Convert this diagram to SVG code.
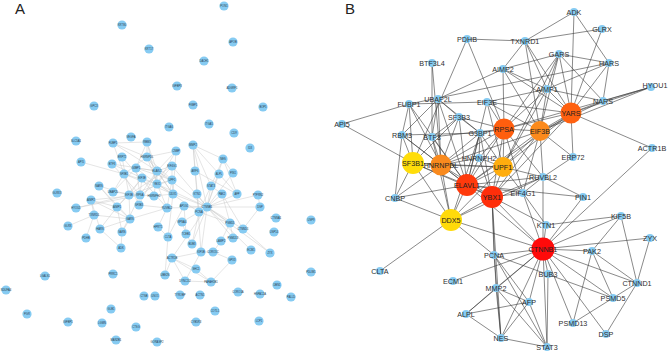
<svg xmlns="http://www.w3.org/2000/svg" width="671" height="354" viewBox="0 0 671 354">
<style>
.panel{font-family:"Liberation Sans",Arial,sans-serif;font-size:15px;fill:#222}
#edgesA line{stroke:#c4c4c4;stroke-width:0.45}
#edgesB line{stroke:#3a3a3a;stroke-width:0.6}
.na circle{fill:#86CBF2}
.na text{font-family:"Liberation Sans",Arial,sans-serif;font-size:2.7px;fill:#2a3a48;text-anchor:middle;dominant-baseline:central}
.nb circle{fill:#86CBF2}
.nb text,.hb text{font-family:"Liberation Sans",Arial,sans-serif;font-size:7.2px;fill:#2e2e2e;text-anchor:middle;dominant-baseline:central}
.hb text{fill:#222}
</style>
<rect width="671" height="354" fill="#fff"/>
<text class="panel" x="15" y="14">A</text>
<text class="panel" x="345" y="14">B</text>

<g id="edgesA">
<line x1="113" y1="143" x2="147" y2="142"/><line x1="113" y1="143" x2="124" y2="174"/><line x1="113" y1="143" x2="147" y2="157"/><line x1="113" y1="143" x2="157" y2="171"/>
<line x1="147" y1="142" x2="147" y2="157"/><line x1="147" y1="142" x2="157" y2="171"/><line x1="147" y1="142" x2="136" y2="168"/><line x1="147" y1="142" x2="157" y2="184"/>
<line x1="176" y1="151" x2="157" y2="171"/><line x1="176" y1="151" x2="157" y2="184"/><line x1="176" y1="151" x2="147" y2="157"/><line x1="176" y1="151" x2="173" y2="194"/>
<line x1="122" y1="157" x2="129" y2="195"/><line x1="122" y1="157" x2="167" y2="208"/>
<line x1="147" y1="157" x2="157" y2="171"/><line x1="147" y1="157" x2="157" y2="184"/><line x1="147" y1="157" x2="124" y2="174"/><line x1="147" y1="157" x2="172" y2="180"/><line x1="147" y1="157" x2="173" y2="194"/>
<line x1="112" y1="164" x2="142" y2="178"/><line x1="112" y1="164" x2="140" y2="195"/><line x1="112" y1="164" x2="157" y2="171"/>
<line x1="136" y1="168" x2="157" y2="171"/><line x1="136" y1="168" x2="157" y2="184"/><line x1="136" y1="168" x2="172" y2="180"/><line x1="136" y1="168" x2="140" y2="195"/>
<line x1="157" y1="171" x2="157" y2="184"/><line x1="157" y1="171" x2="172" y2="180"/><line x1="157" y1="171" x2="173" y2="194"/><line x1="157" y1="171" x2="172" y2="166"/><line x1="157" y1="171" x2="140" y2="195"/><line x1="157" y1="171" x2="207" y2="207"/><line x1="157" y1="171" x2="139" y2="205"/>
<line x1="172" y1="166" x2="172" y2="180"/><line x1="172" y1="166" x2="157" y2="184"/><line x1="172" y1="166" x2="129" y2="195"/><line x1="172" y1="166" x2="207" y2="207"/>
<line x1="124" y1="174" x2="173" y2="194"/><line x1="124" y1="174" x2="139" y2="205"/><line x1="124" y1="174" x2="157" y2="184"/><line x1="124" y1="174" x2="113" y2="192"/>
<line x1="142" y1="178" x2="129" y2="195"/><line x1="142" y1="178" x2="140" y2="195"/><line x1="142" y1="178" x2="157" y2="184"/><line x1="142" y1="178" x2="117" y2="207"/>
<line x1="157" y1="184" x2="172" y2="180"/><line x1="157" y1="184" x2="173" y2="194"/><line x1="157" y1="184" x2="140" y2="195"/><line x1="157" y1="184" x2="207" y2="207"/><line x1="157" y1="184" x2="199" y2="212"/><line x1="157" y1="184" x2="167" y2="208"/>
<line x1="172" y1="180" x2="173" y2="194"/><line x1="172" y1="180" x2="167" y2="208"/><line x1="172" y1="180" x2="129" y2="195"/>
<line x1="99" y1="186" x2="129" y2="195"/><line x1="99" y1="186" x2="117" y2="207"/><line x1="99" y1="186" x2="130" y2="219"/>
<line x1="113" y1="192" x2="140" y2="195"/><line x1="113" y1="192" x2="136" y2="168"/>
<line x1="129" y1="195" x2="140" y2="195"/><line x1="129" y1="195" x2="117" y2="207"/><line x1="129" y1="195" x2="130" y2="219"/>
<line x1="140" y1="195" x2="154" y2="196"/><line x1="140" y1="195" x2="91" y2="200"/><line x1="140" y1="195" x2="122" y2="232"/>
<line x1="154" y1="196" x2="173" y2="194"/><line x1="154" y1="196" x2="157" y2="171"/>
<line x1="173" y1="194" x2="207" y2="207"/><line x1="173" y1="194" x2="168" y2="237"/>
<line x1="91" y1="200" x2="117" y2="207"/><line x1="91" y1="200" x2="130" y2="219"/><line x1="91" y1="200" x2="100" y2="229"/><line x1="91" y1="200" x2="94" y2="215"/>
<line x1="76" y1="208" x2="129" y2="195"/><line x1="76" y1="208" x2="140" y2="195"/>
<line x1="117" y1="207" x2="130" y2="219"/><line x1="117" y1="207" x2="122" y2="232"/><line x1="117" y1="207" x2="100" y2="229"/>
<line x1="139" y1="205" x2="167" y2="208"/>
<line x1="94" y1="215" x2="68" y2="226"/><line x1="94" y1="215" x2="86" y2="238"/><line x1="94" y1="215" x2="130" y2="219"/>
<line x1="130" y1="219" x2="100" y2="229"/><line x1="130" y1="219" x2="122" y2="232"/><line x1="130" y1="219" x2="167" y2="208"/>
<line x1="100" y1="229" x2="121" y2="248"/><line x1="122" y1="232" x2="121" y2="248"/>
<line x1="81" y1="162" x2="124" y2="174"/>
<line x1="167" y1="208" x2="207" y2="207"/><line x1="167" y1="208" x2="158" y2="227"/>
<line x1="207" y1="207" x2="199" y2="212"/><line x1="207" y1="207" x2="197" y2="194"/><line x1="207" y1="207" x2="211" y2="186"/><line x1="207" y1="207" x2="222" y2="194"/><line x1="207" y1="207" x2="237" y2="194"/><line x1="207" y1="207" x2="193" y2="145"/><line x1="207" y1="207" x2="219" y2="174"/><line x1="207" y1="207" x2="223" y2="159"/><line x1="207" y1="207" x2="233" y2="173"/><line x1="207" y1="207" x2="184" y2="206"/><line x1="207" y1="207" x2="230" y2="223"/><line x1="207" y1="207" x2="243" y2="229"/><line x1="207" y1="207" x2="233" y2="238"/><line x1="207" y1="207" x2="192" y2="244"/><line x1="207" y1="207" x2="201" y2="252"/><line x1="207" y1="207" x2="260" y2="207"/><line x1="207" y1="207" x2="270" y2="253"/><line x1="207" y1="207" x2="251" y2="250"/><line x1="207" y1="207" x2="172" y2="258"/>
<line x1="199" y1="212" x2="211" y2="186"/><line x1="199" y1="212" x2="193" y2="145"/><line x1="199" y1="212" x2="182" y2="222"/><line x1="199" y1="212" x2="192" y2="244"/><line x1="199" y1="212" x2="230" y2="223"/>
<line x1="193" y1="145" x2="195" y2="171"/><line x1="193" y1="145" x2="223" y2="159"/><line x1="193" y1="145" x2="219" y2="174"/><line x1="193" y1="145" x2="211" y2="186"/>
<line x1="195" y1="171" x2="237" y2="194"/><line x1="195" y1="171" x2="197" y2="194"/><line x1="219" y1="174" x2="237" y2="194"/><line x1="223" y1="159" x2="211" y2="186"/><line x1="223" y1="159" x2="237" y2="194"/>
<line x1="211" y1="186" x2="222" y2="194"/><line x1="222" y1="194" x2="243" y2="229"/><line x1="222" y1="194" x2="230" y2="223"/>
<line x1="230" y1="223" x2="233" y2="238"/><line x1="230" y1="223" x2="221" y2="241"/><line x1="243" y1="229" x2="270" y2="253"/><line x1="243" y1="229" x2="260" y2="207"/>
<line x1="197" y1="194" x2="201" y2="252"/><line x1="184" y1="206" x2="168" y2="237"/><line x1="184" y1="206" x2="186" y2="234"/><line x1="182" y1="222" x2="186" y2="234"/><line x1="158" y1="227" x2="168" y2="237"/><line x1="186" y1="234" x2="192" y2="244"/>
<line x1="221" y1="241" x2="213" y2="252"/><line x1="201" y1="252" x2="172" y2="258"/><line x1="201" y1="252" x2="213" y2="252"/><line x1="201" y1="252" x2="185" y2="281"/>
<line x1="172" y1="258" x2="185" y2="281"/><line x1="172" y1="258" x2="211" y2="282"/><line x1="172" y1="258" x2="165" y2="275"/><line x1="172" y1="258" x2="196" y2="269"/>
<line x1="185" y1="281" x2="211" y2="282"/><line x1="196" y1="269" x2="211" y2="282"/><line x1="232" y1="260" x2="211" y2="282"/><line x1="213" y1="252" x2="232" y2="260"/><line x1="168" y1="237" x2="165" y2="275"/>
<line x1="258" y1="195" x2="207" y2="207"/><line x1="233" y1="173" x2="223" y2="159"/><line x1="260" y1="207" x2="258" y2="195"/>
</g>

<g id="panelA">
<g id="a-PON1" class="na"><circle cx="224" cy="6" r="4.6"/><text x="224" y="6">PON1</text></g>
<g id="a-KRT80" class="na"><circle cx="122" cy="25" r="4.6"/><text x="122" y="25">KRT80</text></g>
<g id="a-KRT17" class="na"><circle cx="149" cy="49" r="4.6"/><text x="149" y="49">KRT17</text></g>
<g id="a-APOB" class="na"><circle cx="233" cy="42" r="4.6"/><text x="233" y="42">APOB</text></g>
<g id="a-DACH1" class="na"><circle cx="204" cy="61" r="4.6"/><text x="204" y="61">DACH1</text></g>
<g id="a-IGFBP3" class="na"><circle cx="177" cy="86" r="4.6"/><text x="177" y="86">IGFBP3</text></g>
<g id="a-ADGRF1" class="na"><circle cx="232" cy="88" r="4.6"/><text x="232" y="88">ADGRF1</text></g>
<g id="a-GPC3" class="na"><circle cx="94" cy="106" r="4.6"/><text x="94" y="106">GPC3</text></g>
<g id="a-FKBP1" class="na"><circle cx="193" cy="105" r="4.6"/><text x="193" y="105">FKBP1</text></g>
<g id="a-BOP5" class="na"><circle cx="263" cy="107" r="4.6"/><text x="263" y="107">BOP5</text></g>
<g id="a-ITGA5" class="na"><circle cx="209" cy="124" r="4.6"/><text x="209" y="124">ITGA5</text></g>
<g id="a-ITGA6" class="na"><circle cx="169" cy="127" r="4.6"/><text x="169" y="127">ITGA6</text></g>
<g id="a-CD9" class="na"><circle cx="234" cy="133" r="4.6"/><text x="234" y="133">CD9</text></g>
<g id="a-ID3" class="na"><circle cx="250" cy="148" r="4.6"/><text x="250" y="148">ID3</text></g>
<g id="a-SLC5A1" class="na"><circle cx="76" cy="141" r="4.6"/><text x="76" y="141">SLC5A1</text></g>
<g id="a-FUBP1" class="na"><circle cx="113" cy="143" r="4.6"/><text x="113" y="143">FUBP1</text></g>
<g id="a-VEGFA" class="na"><circle cx="131" cy="137" r="4.6"/><text x="131" y="137">VEGFA</text></g>
<g id="a-RBM3" class="na"><circle cx="147" cy="142" r="4.6"/><text x="147" y="142">RBM3</text></g>
<g id="a-CNBP" class="na"><circle cx="176" cy="151" r="4.6"/><text x="176" y="151">CNBP</text></g>
<g id="a-MMP2" class="na"><circle cx="193" cy="145" r="4.6"/><text x="193" y="145">MMP2</text></g>
<g id="a-NES" class="na"><circle cx="223" cy="159" r="4.6"/><text x="223" y="159">NES</text></g>
<g id="a-API5" class="na"><circle cx="81" cy="162" r="4.6"/><text x="81" y="162">API5</text></g>
<g id="a-ERP72" class="na"><circle cx="122" cy="157" r="4.6"/><text x="122" y="157">ERP72</text></g>
<g id="a-HNRNPDL" class="na"><circle cx="147" cy="157" r="4.6"/><text x="147" y="157">HNRNPDL</text></g>
<g id="a-BTF3" class="na"><circle cx="112" cy="164" r="4.6"/><text x="112" y="164">BTF3</text></g>
<g id="a-G3BP1" class="na"><circle cx="136" cy="168" r="4.6"/><text x="136" y="168">G3BP1</text></g>
<g id="a-ELAVL1" class="na"><circle cx="157" cy="171" r="4.6"/><text x="157" y="171">ELAVL1</text></g>
<g id="a-EIF4G1" class="na"><circle cx="172" cy="166" r="4.6"/><text x="172" y="166">EIF4G1</text></g>
<g id="a-ARF6" class="na"><circle cx="195" cy="171" r="4.6"/><text x="195" y="171">ARF6</text></g>
<g id="a-PIN1" class="na"><circle cx="233" cy="173" r="4.6"/><text x="233" y="173">PIN1</text></g>
<g id="a-ALPL" class="na"><circle cx="219" cy="174" r="4.6"/><text x="219" y="174">ALPL</text></g>
<g id="a-SF3B1" class="na"><circle cx="124" cy="174" r="4.6"/><text x="124" y="174">SF3B1</text></g>
<g id="a-EIF3E" class="na"><circle cx="142" cy="178" r="4.6"/><text x="142" y="178">EIF3E</text></g>
<g id="a-YBX1" class="na"><circle cx="157" cy="184" r="4.6"/><text x="157" y="184">YBX1</text></g>
<g id="a-UPF1" class="na"><circle cx="172" cy="180" r="4.6"/><text x="172" y="180">UPF1</text></g>
<g id="a-NARS" class="na"><circle cx="99" cy="186" r="4.6"/><text x="99" y="186">NARS</text></g>
<g id="a-UBAP2L" class="na"><circle cx="113" cy="192" r="4.6"/><text x="113" y="192">UBAP2L</text></g>
<g id="a-EIF3B" class="na"><circle cx="129" cy="195" r="4.6"/><text x="129" y="195">EIF3B</text></g>
<g id="a-RPSA" class="na"><circle cx="140" cy="195" r="4.6"/><text x="140" y="195">RPSA</text></g>
<g id="a-HNRNPH2" class="na"><circle cx="154" cy="196" r="4.6"/><text x="154" y="196">HNRNPH2</text></g>
<g id="a-DDX5" class="na"><circle cx="173" cy="194" r="4.6"/><text x="173" y="194">DDX5</text></g>
<g id="a-KTN1" class="na"><circle cx="197" cy="194" r="4.6"/><text x="197" y="194">KTN1</text></g>
<g id="a-STAT3" class="na"><circle cx="211" cy="186" r="4.6"/><text x="211" y="186">STAT3</text></g>
<g id="a-PAK2" class="na"><circle cx="222" cy="194" r="4.6"/><text x="222" y="194">PAK2</text></g>
<g id="a-AFP" class="na"><circle cx="237" cy="194" r="4.6"/><text x="237" y="194">AFP</text></g>
<g id="a-PTPRN2" class="na"><circle cx="258" cy="195" r="4.6"/><text x="258" y="195">PTPRN2</text></g>
<g id="a-GLRX3" class="na"><circle cx="57" cy="193" r="4.6"/><text x="57" y="193">GLRX3</text></g>
<g id="a-AIMP2" class="na"><circle cx="91" cy="200" r="4.6"/><text x="91" y="200">AIMP2</text></g>
<g id="a-HYOU1" class="na"><circle cx="76" cy="208" r="4.6"/><text x="76" y="208">HYOU1</text></g>
<g id="a-AIMP1" class="na"><circle cx="117" cy="207" r="4.6"/><text x="117" y="207">AIMP1</text></g>
<g id="a-SF3B3" class="na"><circle cx="139" cy="205" r="4.6"/><text x="139" y="205">SF3B3</text></g>
<g id="a-RUVBL2" class="na"><circle cx="167" cy="208" r="4.6"/><text x="167" y="208">RUVBL2</text></g>
<g id="a-AP1G1" class="na"><circle cx="184" cy="206" r="4.6"/><text x="184" y="206">AP1G1</text></g>
<g id="a-CTNNB1" class="na"><circle cx="207" cy="207" r="4.6"/><text x="207" y="207">CTNNB1</text></g>
<g id="a-PCNA" class="na"><circle cx="199" cy="212" r="4.6"/><text x="199" y="212">PCNA</text></g>
<g id="a-DSP" class="na"><circle cx="260" cy="207" r="4.6"/><text x="260" y="207">DSP</text></g>
<g id="a-TXNRD1" class="na"><circle cx="94" cy="215" r="4.6"/><text x="94" y="215">TXNRD1</text></g>
<g id="a-GARS" class="na"><circle cx="130" cy="219" r="4.6"/><text x="130" y="219">GARS</text></g>
<g id="a-CTNNA1" class="na"><circle cx="276" cy="218" r="4.6"/><text x="276" y="218">CTNNA1</text></g>
<g id="a-USP9" class="na"><circle cx="311" cy="220" r="4.6"/><text x="311" y="220">USP9</text></g>
<g id="a-GLRX" class="na"><circle cx="68" cy="226" r="4.6"/><text x="68" y="226">GLRX</text></g>
<g id="a-HARS" class="na"><circle cx="100" cy="229" r="4.6"/><text x="100" y="229">HARS</text></g>
<g id="a-SARS" class="na"><circle cx="122" cy="232" r="4.6"/><text x="122" y="232">SARS</text></g>
<g id="a-HPRT1" class="na"><circle cx="158" cy="227" r="4.6"/><text x="158" y="227">HPRT1</text></g>
<g id="a-KPNA4" class="na"><circle cx="182" cy="222" r="4.6"/><text x="182" y="222">KPNA4</text></g>
<g id="a-PSMD5" class="na"><circle cx="230" cy="223" r="4.6"/><text x="230" y="223">PSMD5</text></g>
<g id="a-CTNND1" class="na"><circle cx="243" cy="229" r="4.6"/><text x="243" y="229">CTNND1</text></g>
<g id="a-USP14" class="na"><circle cx="274" cy="232" r="4.6"/><text x="274" y="232">USP14</text></g>
<g id="a-PDHB" class="na"><circle cx="86" cy="238" r="4.6"/><text x="86" y="238">PDHB</text></g>
<g id="a-CLTA" class="na"><circle cx="168" cy="237" r="4.6"/><text x="168" y="237">CLTA</text></g>
<g id="a-TCEB1" class="na"><circle cx="186" cy="234" r="4.6"/><text x="186" y="234">TCEB1</text></g>
<g id="a-LAMP2" class="na"><circle cx="221" cy="241" r="4.6"/><text x="221" y="241">LAMP2</text></g>
<g id="a-PSMD13" class="na"><circle cx="233" cy="238" r="4.6"/><text x="233" y="238">PSMD13</text></g>
<g id="a-ADK" class="na"><circle cx="121" cy="248" r="4.6"/><text x="121" y="248">ADK</text></g>
<g id="a-BUB3" class="na"><circle cx="192" cy="244" r="4.6"/><text x="192" y="244">BUB3</text></g>
<g id="a-KIF5B" class="na"><circle cx="201" cy="252" r="4.6"/><text x="201" y="252">KIF5B</text></g>
<g id="a-CORO1C" class="na"><circle cx="213" cy="252" r="4.6"/><text x="213" y="252">CORO1C</text></g>
<g id="a-ECM1" class="na"><circle cx="251" cy="250" r="4.6"/><text x="251" y="250">ECM1</text></g>
<g id="a-ZYX" class="na"><circle cx="270" cy="253" r="4.6"/><text x="270" y="253">ZYX</text></g>
<g id="a-ACTR1B" class="na"><circle cx="172" cy="258" r="4.6"/><text x="172" y="258">ACTR1B</text></g>
<g id="a-GPX3" class="na"><circle cx="232" cy="260" r="4.6"/><text x="232" y="260">GPX3</text></g>
<g id="a-PDLIM1" class="na"><circle cx="311" cy="272" r="4.6"/><text x="311" y="272">PDLIM1</text></g>
<g id="a-SHC1" class="na"><circle cx="196" cy="269" r="4.6"/><text x="196" y="269">SHC1</text></g>
<g id="a-UBE2N" class="na"><circle cx="165" cy="275" r="4.6"/><text x="165" y="275">UBE2N</text></g>
<g id="a-PRRC1" class="na"><circle cx="113" cy="274" r="4.6"/><text x="113" y="274">PRRC1</text></g>
<g id="a-LGALS1" class="na"><circle cx="45" cy="276" r="4.6"/><text x="45" y="276">LGALS1</text></g>
<g id="a-DYNC1I2" class="na"><circle cx="185" cy="281" r="4.6"/><text x="185" y="281">DYNC1I2</text></g>
<g id="a-PAFAH1B1" class="na"><circle cx="211" cy="282" r="4.6"/><text x="211" y="282">PAFAH1B1</text></g>
<g id="a-DBN1" class="na"><circle cx="277" cy="285" r="4.6"/><text x="277" y="285">DBN1</text></g>
<g id="a-NDUFA4" class="na"><circle cx="6" cy="290" r="4.6"/><text x="6" y="290">NDUFA4</text></g>
<g id="a-CTSB" class="na"><circle cx="144" cy="296" r="4.6"/><text x="144" y="296">CTSB</text></g>
<g id="a-USO1" class="na"><circle cx="155" cy="296" r="4.6"/><text x="155" y="296">USO1</text></g>
<g id="a-TYROBP" class="na"><circle cx="180" cy="295" r="4.6"/><text x="180" y="295">TYROBP</text></g>
<g id="a-ACTN1" class="na"><circle cx="200" cy="295" r="4.6"/><text x="200" y="295">ACTN1</text></g>
<g id="a-CORO1A" class="na"><circle cx="238" cy="292" r="4.6"/><text x="238" y="292">CORO1A</text></g>
<g id="a-HSPA12A" class="na"><circle cx="260" cy="294" r="4.6"/><text x="260" y="294">HSPA12A</text></g>
<g id="a-PALLD" class="na"><circle cx="291" cy="297" r="4.6"/><text x="291" y="297">PALLD</text></g>
<g id="a-GLB1" class="na"><circle cx="111" cy="309" r="4.6"/><text x="111" y="309">GLB1</text></g>
<g id="a-COTL1" class="na"><circle cx="215" cy="311" r="4.6"/><text x="215" y="311">COTL1</text></g>
<g id="a-PGR" class="na"><circle cx="27" cy="314" r="4.6"/><text x="27" y="314">PGR</text></g>
<g id="a-IGFBP1" class="na"><circle cx="68" cy="322" r="4.6"/><text x="68" y="322">IGFBP1</text></g>
<g id="a-LGMN" class="na"><circle cx="102" cy="323" r="4.6"/><text x="102" y="323">LGMN</text></g>
<g id="a-CTSG" class="na"><circle cx="136" cy="327" r="4.6"/><text x="136" y="327">CTSG</text></g>
<g id="a-CYB5R3" class="na"><circle cx="196" cy="322" r="4.6"/><text x="196" y="322">CYB5R3</text></g>
<g id="a-LCP1" class="na"><circle cx="259" cy="321" r="4.6"/><text x="259" y="321">LCP1</text></g>
<g id="a-MAN2B1" class="na"><circle cx="116" cy="340" r="4.6"/><text x="116" y="340">MAN2B1</text></g>
<g id="a-GORASP2" class="na"><circle cx="157" cy="342" r="4.6"/><text x="157" y="342">GORASP2</text></g>
</g>

<g id="edgesB">
<line x1="574" y1="12" x2="525" y2="41"/><line x1="574" y1="12" x2="571" y2="113"/><line x1="574" y1="12" x2="609" y2="63"/>
<line x1="602" y1="29" x2="525" y2="41"/><line x1="602" y1="29" x2="571" y2="113"/>
<line x1="467" y1="39" x2="525" y2="41"/><line x1="467" y1="39" x2="413" y2="163"/><line x1="467" y1="39" x2="504" y2="129"/>
<line x1="525" y1="41" x2="503" y2="69"/><line x1="525" y1="41" x2="547" y2="89"/><line x1="525" y1="41" x2="571" y2="113"/><line x1="525" y1="41" x2="540" y2="131"/>
<line x1="559" y1="54" x2="503" y2="69"/><line x1="559" y1="54" x2="609" y2="63"/><line x1="559" y1="54" x2="547" y2="89"/><line x1="559" y1="54" x2="571" y2="113"/><line x1="559" y1="54" x2="540" y2="131"/><line x1="559" y1="54" x2="504" y2="129"/><line x1="559" y1="54" x2="603" y2="101"/><line x1="559" y1="54" x2="503" y2="167"/>
<line x1="609" y1="63" x2="571" y2="113"/><line x1="609" y1="63" x2="603" y2="101"/><line x1="609" y1="63" x2="547" y2="89"/><line x1="609" y1="63" x2="409" y2="104"/>
<line x1="432" y1="63" x2="432" y2="137"/><line x1="432" y1="63" x2="441" y2="165"/>
<line x1="503" y1="69" x2="547" y2="89"/><line x1="503" y1="69" x2="571" y2="113"/><line x1="503" y1="69" x2="540" y2="131"/><line x1="503" y1="69" x2="438" y2="99"/><line x1="503" y1="69" x2="504" y2="129"/>
<line x1="651" y1="87" x2="571" y2="113"/><line x1="651" y1="87" x2="540" y2="131"/><line x1="651" y1="87" x2="504" y2="129"/><line x1="651" y1="87" x2="603" y2="101"/>
<line x1="547" y1="89" x2="571" y2="113"/><line x1="547" y1="89" x2="603" y2="101"/><line x1="547" y1="89" x2="540" y2="131"/><line x1="547" y1="89" x2="504" y2="129"/><line x1="547" y1="89" x2="487" y2="102"/><line x1="547" y1="89" x2="503" y2="167"/>
<line x1="603" y1="101" x2="571" y2="113"/><line x1="603" y1="101" x2="540" y2="131"/>
<line x1="409" y1="104" x2="487" y2="102"/><line x1="409" y1="104" x2="441" y2="165"/><line x1="409" y1="104" x2="413" y2="163"/><line x1="409" y1="104" x2="342" y2="124"/><line x1="409" y1="104" x2="402" y2="135"/><line x1="409" y1="104" x2="467" y2="185"/>
<line x1="438" y1="99" x2="459" y2="117"/><line x1="438" y1="99" x2="441" y2="165"/><line x1="438" y1="99" x2="480" y2="133"/><line x1="438" y1="99" x2="467" y2="185"/><line x1="438" y1="99" x2="432" y2="137"/><line x1="438" y1="99" x2="402" y2="135"/>
<line x1="487" y1="102" x2="571" y2="113"/><line x1="487" y1="102" x2="504" y2="129"/><line x1="487" y1="102" x2="540" y2="131"/><line x1="487" y1="102" x2="503" y2="167"/><line x1="487" y1="102" x2="467" y2="185"/>
<line x1="571" y1="113" x2="504" y2="129"/><line x1="571" y1="113" x2="540" y2="131"/><line x1="571" y1="113" x2="503" y2="167"/><line x1="571" y1="113" x2="573" y2="157"/><line x1="571" y1="113" x2="652" y2="148"/><line x1="571" y1="113" x2="467" y2="185"/><line x1="571" y1="113" x2="492" y2="197"/>
<line x1="459" y1="117" x2="413" y2="163"/><line x1="459" y1="117" x2="441" y2="165"/><line x1="459" y1="117" x2="467" y2="185"/><line x1="459" y1="117" x2="432" y2="137"/><line x1="459" y1="117" x2="480" y2="133"/><line x1="459" y1="117" x2="504" y2="129"/>
<line x1="342" y1="124" x2="413" y2="163"/>
<line x1="402" y1="135" x2="480" y2="133"/><line x1="402" y1="135" x2="413" y2="163"/><line x1="402" y1="135" x2="395" y2="198"/><line x1="402" y1="135" x2="441" y2="165"/><line x1="402" y1="135" x2="467" y2="185"/>
<line x1="432" y1="137" x2="441" y2="165"/><line x1="432" y1="137" x2="467" y2="185"/><line x1="432" y1="137" x2="504" y2="129"/><line x1="432" y1="137" x2="451" y2="220"/>
<line x1="480" y1="133" x2="503" y2="167"/><line x1="480" y1="133" x2="467" y2="185"/><line x1="480" y1="133" x2="492" y2="197"/><line x1="480" y1="133" x2="504" y2="129"/><line x1="480" y1="133" x2="441" y2="165"/><line x1="480" y1="133" x2="451" y2="220"/><line x1="480" y1="133" x2="479" y2="158"/>
<line x1="504" y1="129" x2="540" y2="131"/><line x1="504" y1="129" x2="503" y2="167"/><line x1="504" y1="129" x2="467" y2="185"/><line x1="504" y1="129" x2="492" y2="197"/><line x1="504" y1="129" x2="441" y2="165"/><line x1="504" y1="129" x2="523" y2="193"/><line x1="504" y1="129" x2="543" y2="177"/><line x1="504" y1="129" x2="479" y2="158"/>
<line x1="540" y1="131" x2="503" y2="167"/><line x1="540" y1="131" x2="467" y2="185"/><line x1="540" y1="131" x2="492" y2="197"/><line x1="540" y1="131" x2="523" y2="193"/><line x1="540" y1="131" x2="573" y2="157"/><line x1="540" y1="131" x2="543" y2="177"/><line x1="540" y1="131" x2="441" y2="165"/>
<line x1="652" y1="148" x2="543" y2="249"/><line x1="573" y1="157" x2="543" y2="177"/>
<line x1="413" y1="163" x2="441" y2="165"/><line x1="413" y1="163" x2="467" y2="185"/><line x1="413" y1="163" x2="492" y2="197"/><line x1="413" y1="163" x2="451" y2="220"/><line x1="413" y1="163" x2="395" y2="198"/><line x1="413" y1="163" x2="503" y2="167"/>
<line x1="441" y1="165" x2="467" y2="185"/><line x1="441" y1="165" x2="492" y2="197"/><line x1="441" y1="165" x2="503" y2="167"/><line x1="441" y1="165" x2="451" y2="220"/><line x1="441" y1="165" x2="395" y2="198"/><line x1="441" y1="165" x2="479" y2="158"/>
<line x1="479" y1="158" x2="467" y2="185"/><line x1="479" y1="158" x2="492" y2="197"/><line x1="479" y1="158" x2="503" y2="167"/>
<line x1="503" y1="167" x2="467" y2="185"/><line x1="503" y1="167" x2="492" y2="197"/><line x1="503" y1="167" x2="543" y2="177"/><line x1="503" y1="167" x2="523" y2="193"/><line x1="503" y1="167" x2="451" y2="220"/>
<line x1="543" y1="177" x2="492" y2="197"/><line x1="543" y1="177" x2="467" y2="185"/><line x1="543" y1="177" x2="543" y2="249"/><line x1="543" y1="177" x2="583" y2="197"/><line x1="543" y1="177" x2="523" y2="193"/><line x1="543" y1="177" x2="451" y2="220"/>
<line x1="467" y1="185" x2="492" y2="197"/><line x1="467" y1="185" x2="451" y2="220"/><line x1="467" y1="185" x2="395" y2="198"/><line x1="467" y1="185" x2="523" y2="193"/><line x1="467" y1="185" x2="583" y2="197"/><line x1="467" y1="185" x2="543" y2="249"/>
<line x1="492" y1="197" x2="451" y2="220"/><line x1="492" y1="197" x2="523" y2="193"/><line x1="492" y1="197" x2="543" y2="249"/><line x1="492" y1="197" x2="494" y2="255"/><line x1="492" y1="197" x2="501" y2="338"/><line x1="492" y1="197" x2="496" y2="288"/><line x1="492" y1="197" x2="546" y2="225"/>
<line x1="523" y1="193" x2="543" y2="249"/><line x1="523" y1="193" x2="546" y2="225"/><line x1="583" y1="197" x2="543" y2="249"/>
<line x1="395" y1="198" x2="451" y2="220"/>
<line x1="451" y1="220" x2="380" y2="271"/><line x1="451" y1="220" x2="543" y2="249"/><line x1="451" y1="220" x2="494" y2="255"/>
<line x1="546" y1="225" x2="543" y2="249"/><line x1="546" y1="225" x2="621" y2="216"/>
<line x1="621" y1="216" x2="543" y2="249"/><line x1="621" y1="216" x2="637" y2="283"/><line x1="621" y1="216" x2="592" y2="251"/>
<line x1="650" y1="238" x2="543" y2="249"/><line x1="650" y1="238" x2="637" y2="283"/>
<line x1="543" y1="249" x2="592" y2="251"/><line x1="543" y1="249" x2="494" y2="255"/><line x1="543" y1="249" x2="453" y2="281"/><line x1="543" y1="249" x2="496" y2="288"/><line x1="543" y1="249" x2="548" y2="274"/><line x1="543" y1="249" x2="529" y2="302"/><line x1="543" y1="249" x2="501" y2="338"/><line x1="543" y1="249" x2="547" y2="347"/><line x1="543" y1="249" x2="573" y2="323"/><line x1="543" y1="249" x2="613" y2="298"/><line x1="543" y1="249" x2="606" y2="334"/><line x1="543" y1="249" x2="637" y2="283"/><line x1="543" y1="249" x2="466" y2="314"/>
<line x1="592" y1="251" x2="637" y2="283"/><line x1="592" y1="251" x2="613" y2="298"/><line x1="592" y1="251" x2="573" y2="323"/>
<line x1="494" y1="255" x2="613" y2="298"/><line x1="494" y1="255" x2="501" y2="338"/><line x1="494" y1="255" x2="547" y2="347"/><line x1="494" y1="255" x2="529" y2="302"/>
<line x1="496" y1="288" x2="466" y2="314"/><line x1="496" y1="288" x2="501" y2="338"/><line x1="496" y1="288" x2="529" y2="302"/><line x1="496" y1="288" x2="547" y2="347"/>
<line x1="466" y1="314" x2="529" y2="302"/><line x1="466" y1="314" x2="501" y2="338"/>
<line x1="529" y1="302" x2="501" y2="338"/><line x1="529" y1="302" x2="547" y2="347"/><line x1="501" y1="338" x2="547" y2="347"/>
<line x1="613" y1="298" x2="573" y2="323"/><line x1="613" y1="298" x2="637" y2="283"/><line x1="606" y1="334" x2="637" y2="283"/><line x1="548" y1="274" x2="547" y2="347"/>
</g>

<g id="panelB">
<g id="b-ADK" class="nb"><circle cx="574" cy="12" r="4"/><text x="574" y="12">ADK</text></g>
<g id="b-GLRX" class="nb"><circle cx="602" cy="29" r="4"/><text x="602" y="29">GLRX</text></g>
<g id="b-PDHB" class="nb"><circle cx="467" cy="39" r="4"/><text x="467" y="39">PDHB</text></g>
<g id="b-TXNRD1" class="nb"><circle cx="525" cy="41" r="4"/><text x="525" y="41">TXNRD1</text></g>
<g id="b-GARS" class="nb"><circle cx="559" cy="54" r="4"/><text x="559" y="54">GARS</text></g>
<g id="b-HARS" class="nb"><circle cx="609" cy="63" r="4"/><text x="609" y="63">HARS</text></g>
<g id="b-BTF3L4" class="nb"><circle cx="432" cy="63" r="4"/><text x="432" y="63">BTF3L4</text></g>
<g id="b-AIMP2" class="nb"><circle cx="503" cy="69" r="4"/><text x="503" y="69">AIMP2</text></g>
<g id="b-HYOU1" class="nb"><circle cx="651" cy="87" r="4"/><text x="655" y="85">HYOU1</text></g>
<g id="b-AIMP1" class="nb"><circle cx="547" cy="89" r="4"/><text x="547" y="89">AIMP1</text></g>
<g id="b-NARS" class="nb"><circle cx="603" cy="101" r="4"/><text x="603" y="101">NARS</text></g>
<g id="b-FUBP1" class="nb"><circle cx="409" cy="104" r="4"/><text x="409" y="104">FUBP1</text></g>
<g id="b-UBAP2L" class="nb"><circle cx="438" cy="99" r="4"/><text x="438" y="99">UBAP2L</text></g>
<g id="b-EIF3E" class="nb"><circle cx="487" cy="102" r="4"/><text x="487" y="102">EIF3E</text></g>
<g id="b-SF3B3" class="nb"><circle cx="459" cy="117" r="4"/><text x="459" y="117">SF3B3</text></g>
<g id="b-API5" class="nb"><circle cx="342" cy="124" r="4"/><text x="342" y="124">API5</text></g>
<g id="b-RBM3" class="nb"><circle cx="402" cy="135" r="4"/><text x="402" y="135">RBM3</text></g>
<g id="b-BTF3" class="nb"><circle cx="432" cy="137" r="4"/><text x="432" y="137">BTF3</text></g>
<g id="b-G3BP1" class="nb"><circle cx="480" cy="133" r="4"/><text x="480" y="133">G3BP1</text></g>
<g id="b-ACTR1B" class="nb"><circle cx="652" cy="148" r="4"/><text x="652" y="148">ACTR1B</text></g>
<g id="b-ERP72" class="nb"><circle cx="573" cy="157" r="4"/><text x="573" y="157">ERP72</text></g>
<g id="b-HNRNPH2" class="nb"><circle cx="479" cy="158" r="4"/><text x="479" y="158">HNRNPH2</text></g>
<g id="b-RUVBL2" class="nb"><circle cx="543" cy="177" r="4"/><text x="543" y="177">RUVBL2</text></g>
<g id="b-EIF4G1" class="nb"><circle cx="523" cy="193" r="4"/><text x="523" y="193">EIF4G1</text></g>
<g id="b-PIN1" class="nb"><circle cx="583" cy="197" r="4"/><text x="583" y="197">PIN1</text></g>
<g id="b-CNBP" class="nb"><circle cx="395" cy="198" r="4"/><text x="395" y="198">CNBP</text></g>
<g id="b-KTN1" class="nb"><circle cx="546" cy="225" r="4"/><text x="546" y="225">KTN1</text></g>
<g id="b-KIF5B" class="nb"><circle cx="621" cy="216" r="4"/><text x="621" y="216">KIF5B</text></g>
<g id="b-ZYX" class="nb"><circle cx="650" cy="238" r="4"/><text x="650" y="238">ZYX</text></g>
<g id="b-PAK2" class="nb"><circle cx="592" cy="251" r="4"/><text x="592" y="251">PAK2</text></g>
<g id="b-PCNA" class="nb"><circle cx="494" cy="255" r="4"/><text x="494" y="255">PCNA</text></g>
<g id="b-CLTA" class="nb"><circle cx="380" cy="271" r="4"/><text x="380" y="271">CLTA</text></g>
<g id="b-BUB3" class="nb"><circle cx="548" cy="274" r="4"/><text x="548" y="274">BUB3</text></g>
<g id="b-ECM1" class="nb"><circle cx="453" cy="281" r="4"/><text x="453" y="281">ECM1</text></g>
<g id="b-CTNND1" class="nb"><circle cx="637" cy="283" r="4"/><text x="637" y="283">CTNND1</text></g>
<g id="b-MMP2" class="nb"><circle cx="496" cy="288" r="4"/><text x="496" y="288">MMP2</text></g>
<g id="b-PSMD5" class="nb"><circle cx="613" cy="298" r="4"/><text x="613" y="298">PSMD5</text></g>
<g id="b-AFP" class="nb"><circle cx="529" cy="302" r="4"/><text x="529" y="302">AFP</text></g>
<g id="b-ALPL" class="nb"><circle cx="466" cy="314" r="4"/><text x="466" y="314">ALPL</text></g>
<g id="b-PSMD13" class="nb"><circle cx="573" cy="323" r="4"/><text x="573" y="323">PSMD13</text></g>
<g id="b-DSP" class="nb"><circle cx="606" cy="334" r="4"/><text x="606" y="334">DSP</text></g>
<g id="b-NES" class="nb"><circle cx="501" cy="338" r="4"/><text x="501" y="338">NES</text></g>
<g id="b-STAT3" class="nb"><circle cx="547" cy="347" r="4"/><text x="547" y="347">STAT3</text></g>

<g id="b-YARS" class="hb"><circle cx="571" cy="113" r="10.5" fill="#FF6110"/><text x="571" y="113">YARS</text></g>
<g id="b-RPSA" class="hb"><circle cx="504" cy="129" r="10.5" fill="#FF5E0E"/><text x="504" y="129">RPSA</text></g>
<g id="b-EIF3B" class="hb"><circle cx="540" cy="131" r="10" fill="#FB8A1C"/><text x="540" y="131">EIF3B</text></g>
<g id="b-SF3B1" class="hb"><circle cx="413" cy="163" r="11" fill="#FFDD0A"/><text x="413" y="163">SF3B1</text></g>
<g id="b-HNRNPDL" class="hb"><circle cx="441" cy="165" r="10.5" fill="#F98A1E"/><text x="441" y="165">HNRNPDL</text></g>
<g id="b-UPF1" class="hb"><circle cx="503" cy="167" r="10" fill="#FFAD0E"/><text x="503" y="167">UPF1</text></g>
<g id="b-ELAVL1" class="hb"><circle cx="467" cy="185" r="11" fill="#FF3A0C"/><text x="467" y="185">ELAVL1</text></g>
<g id="b-YBX1" class="hb"><circle cx="492" cy="197" r="11" fill="#FF2E0A"/><text x="492" y="197">YBX1</text></g>
<g id="b-DDX5" class="hb"><circle cx="451" cy="220" r="11" fill="#FFDA0A"/><text x="451" y="220">DDX5</text></g>
<g id="b-CTNNB1" class="hb"><circle cx="543" cy="249" r="11.5" fill="#FF0A0A"/><text x="543" y="249">CTNNB1</text></g>
</g>
</svg>
